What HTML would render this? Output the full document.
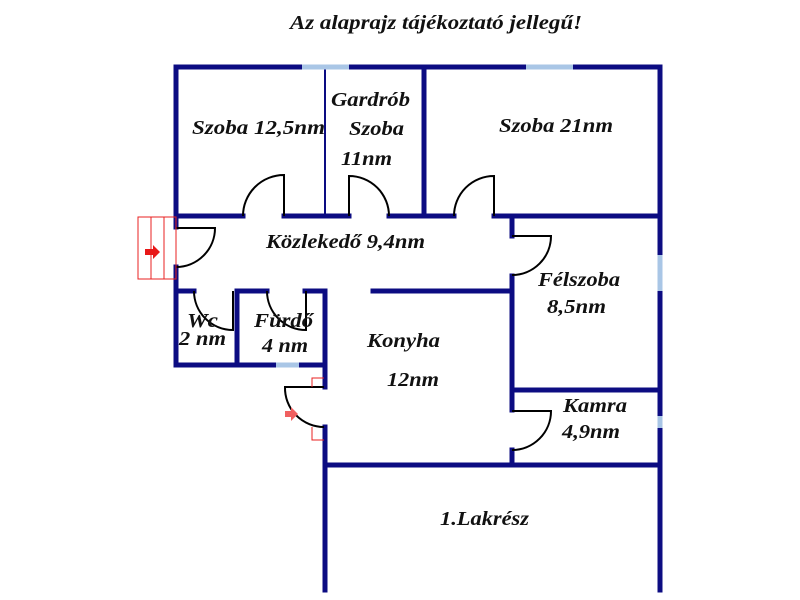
<!DOCTYPE html>
<html><head><meta charset="utf-8"><style>
html,body{margin:0;padding:0;background:#fff;width:800px;height:600px;overflow:hidden}
text{font-family:"Liberation Serif",serif;font-style:italic;font-weight:bold;fill:#111}
</style></head><body>
<svg width="800" height="600" viewBox="0 0 800 600" xmlns="http://www.w3.org/2000/svg">
<g stroke="#0c0c82" stroke-width="5" fill="none" stroke-linecap="square">
<line x1="176" y1="67" x2="660" y2="67"/>
<line x1="176" y1="67" x2="176" y2="227"/>
<line x1="176" y1="267" x2="176" y2="365"/>
<line x1="660" y1="67" x2="660" y2="590"/>
<line x1="176" y1="216" x2="243" y2="216"/>
<line x1="284" y1="216" x2="349" y2="216"/>
<line x1="389" y1="216" x2="454" y2="216"/>
<line x1="494" y1="216" x2="660" y2="216"/>
<line x1="424" y1="67" x2="424" y2="216"/>
<line x1="512" y1="216" x2="512" y2="236"/>
<line x1="512" y1="276" x2="512" y2="410"/>
<line x1="512" y1="450" x2="512" y2="465"/>
<line x1="512" y1="390" x2="660" y2="390"/>
<line x1="373" y1="291" x2="512" y2="291"/>
<line x1="325" y1="465" x2="660" y2="465"/>
<line x1="325" y1="465" x2="325" y2="590"/>
<line x1="176" y1="291" x2="194" y2="291"/>
<line x1="237" y1="291" x2="267" y2="291"/>
<line x1="305" y1="291" x2="325" y2="291"/>
<line x1="237" y1="291" x2="237" y2="365"/>
<line x1="176" y1="365" x2="325" y2="365"/>
<line x1="325" y1="291" x2="325" y2="387"/>
<line x1="325" y1="427" x2="325" y2="465"/>
</g>
<line x1="325" y1="67" x2="325" y2="216" stroke="#0c0c82" stroke-width="2"/>
<g stroke="#a9c6e6" stroke-width="5">
<line x1="302" y1="67" x2="349" y2="67"/>
<line x1="526" y1="67" x2="573" y2="67"/>
<line x1="660" y1="255" x2="660" y2="291"/>
<line x1="660" y1="416" x2="660" y2="428"/>
<line x1="276" y1="365" x2="299" y2="365"/>
</g>
<g stroke="#000" stroke-width="2" fill="none">
<path d="M243 216 A41 41 0 0 1 284 175 L284 216"/>
<path d="M389 216 A40 40 0 0 0 349 176 L349 216"/>
<path d="M454 216 A40 40 0 0 1 494 176 L494 216"/>
<path d="M512 236 L551 236 A39 39 0 0 1 512 275"/>
<path d="M512 411 L551 411 A39 39 0 0 1 512 450"/>
<path d="M176 228 L215 228 A39 39 0 0 1 176 267"/>
<path d="M194 291 A39 39 0 0 0 233 330 L233 291"/>
<path d="M267 291 A39 39 0 0 0 306 330 L306 291"/>
<path d="M324 387 L285 387 A39 39 0 0 0 324 427"/>
</g>
<g stroke="#e82020" stroke-width="1" fill="none">
<rect x="138" y="217" width="38" height="62"/>
<line x1="151" y1="217" x2="151" y2="279"/>
<line x1="164" y1="217" x2="164" y2="279"/>
<polyline points="312,387 312,378 324,378"/>
<polyline points="312,427 312,440 324,440"/>
</g>
<path d="M145 249 L153 249 L153 245 L160 252 L153 259 L153 255 L145 255Z" fill="#e81818"/>
<path d="M285 411 L291 411 L291 407 L298 414 L291 421 L291 417 L285 417Z" fill="#f06060"/>
<g font-size="20" lengthAdjust="spacingAndGlyphs">
<text x="290" y="29" textLength="292" lengthAdjust="spacingAndGlyphs" font-size="20">Az alaprajz tájékoztató jellegű!</text>
<text x="192" y="134" textLength="133" lengthAdjust="spacingAndGlyphs">Szoba 12,5nm</text>
<text x="331" y="106" textLength="79" lengthAdjust="spacingAndGlyphs">Gardrób</text>
<text x="349" y="135" textLength="55" lengthAdjust="spacingAndGlyphs">Szoba</text>
<text x="341" y="165" textLength="51" lengthAdjust="spacingAndGlyphs">11nm</text>
<text x="499" y="132" textLength="114" lengthAdjust="spacingAndGlyphs">Szoba 21nm</text>
<text x="266" y="248" textLength="159" lengthAdjust="spacingAndGlyphs">Közlekedő 9,4nm</text>
<text x="538" y="286" textLength="82" lengthAdjust="spacingAndGlyphs">Félszoba</text>
<text x="547" y="313" textLength="59" lengthAdjust="spacingAndGlyphs">8,5nm</text>
<text x="187" y="327" textLength="31" lengthAdjust="spacingAndGlyphs">Wc</text>
<text x="179" y="345" textLength="47" lengthAdjust="spacingAndGlyphs">2 nm</text>
<text x="254" y="327" textLength="59" lengthAdjust="spacingAndGlyphs">Fürdő</text>
<text x="262" y="352" textLength="46" lengthAdjust="spacingAndGlyphs">4 nm</text>
<text x="367" y="347" textLength="73" lengthAdjust="spacingAndGlyphs">Konyha</text>
<text x="387" y="386" textLength="52" lengthAdjust="spacingAndGlyphs">12nm</text>
<text x="563" y="412" textLength="64" lengthAdjust="spacingAndGlyphs">Kamra</text>
<text x="562" y="438" textLength="58" lengthAdjust="spacingAndGlyphs">4,9nm</text>
<text x="440" y="525" textLength="89" lengthAdjust="spacingAndGlyphs">1.Lakrész</text>
</g>
</svg>
</body></html>
